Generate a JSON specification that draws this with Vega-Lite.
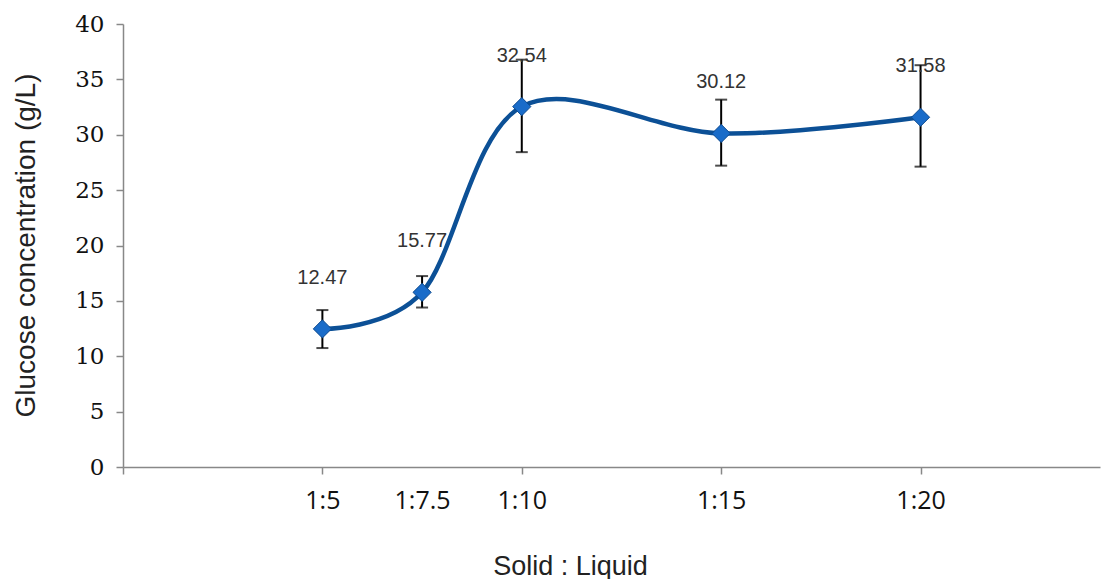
{
  "$schema": "https://vega.github.io/schema/vega-lite/v6.json",
  "width": 977,
  "height": 443,
  "autosize": "none",
  "padding": {"left": 123, "top": 24, "right": 10, "bottom": 112},
  "background": "white",
  "config": {"view": {"stroke": null}},
  "data": {"values": [
    {"ratio": 5, "label": "1:5", "glucose": 12.47, "lo": 10.74, "hi": 14.17},
    {"ratio": 7.5, "label": "1:7.5", "glucose": 15.77, "lo": 14.4, "hi": 17.24},
    {"ratio": 10, "label": "1:10", "glucose": 32.54, "lo": 28.43, "hi": 36.78},
    {"ratio": 15, "label": "1:15", "glucose": 30.12, "lo": 27.21, "hi": 33.17},
    {"ratio": 20, "label": "1:20", "glucose": 31.58, "lo": 27.12, "hi": 36.28}
  ]},
  "encoding": {
    "x": {
      "field": "ratio", "type": "quantitative",
      "scale": {"domain": [0, 24.5], "nice": false, "zero": false},
      "axis": {
        "title": "Solid : Liquid",
        "values": [0, 5, 7.5, 10, 15, 20],
        "labelExpr": "datum.value === 0 ? '' : '1:' + datum.value",
        "grid": false,
        "domainColor": "#888888", "domainWidth": 1.5,
        "tickColor": "#888888", "tickWidth": 1.5, "tickSize": 7,
        "tickOpacity": {"condition": {"test": "datum.value === 7.5", "value": 0}, "value": 1},
        "labelFont": "Open Sans", "labelFontSize": 25, "labelColor": "#111111",
        "labelPadding": 14,
        "titleFont": "Liberation Sans", "titleFontSize": 27, "titleFontWeight": "normal", "titleColor": "#222222",
        "titleX": 447, "titleY": 107, "titleBaseline": "alphabetic"
      }
    },
    "y": {
      "type": "quantitative",
      "scale": {"domain": [0, 40], "nice": false},
      "axis": {
        "title": "Glucose concentration (g/L)",
        "values": [0, 5, 10, 15, 20, 25, 30, 35, 40],
        "grid": false,
        "domainColor": "#888888", "domainWidth": 1.5,
        "tickColor": "#888888", "tickWidth": 1.5, "tickSize": 7,
        "labelFont": "DejaVu Serif", "labelFontSize": 23, "labelColor": "#111111",
        "labelPadding": 12,
        "titleFont": "Liberation Sans", "titleFontSize": 28, "titleFontWeight": "normal", "titleColor": "#222222",
        "titleX": -97, "titleY": 221, "titleBaseline": "middle"
      }
    }
  },
  "layer": [
    {
      "mark": {"type": "line", "interpolate": "cardinal", "tension": 0, "color": "#0c5096", "strokeWidth": 4.5},
      "encoding": {"y": {"field": "glucose"}}
    },
    {
      "mark": {"type": "rule", "color": "#000000", "strokeWidth": 2},
      "encoding": {"y": {"field": "lo"}, "y2": {"field": "hi"}}
    },
    {
      "mark": {"type": "tick", "orient": "horizontal", "color": "#000000", "thickness": 2, "size": 12},
      "encoding": {"y": {"field": "lo"}}
    },
    {
      "mark": {"type": "tick", "orient": "horizontal", "color": "#000000", "thickness": 2, "size": 12},
      "encoding": {"y": {"field": "hi"}}
    },
    {
      "mark": {"type": "point", "shape": "diamond", "size": 330, "filled": true, "fill": "#1a6cc9", "stroke": "#0d4a8f", "strokeWidth": 1, "opacity": 1},
      "encoding": {"y": {"field": "glucose"}}
    },
    {
      "mark": {"type": "text", "font": "Liberation Sans", "fontSize": 20, "color": "#333333", "dy": -51},
      "encoding": {"y": {"field": "glucose"}, "text": {"field": "glucose", "type": "quantitative", "format": ".2f"}}
    }
  ]
}
